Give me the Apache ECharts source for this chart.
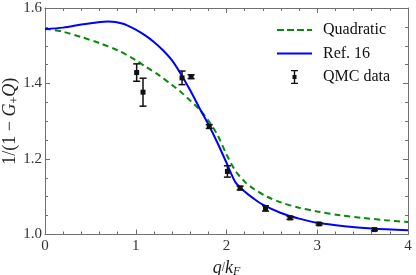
<!DOCTYPE html>
<html><head><meta charset="utf-8">
<script src="https://cdn.jsdelivr.net/npm/echarts@6/dist/echarts.min.js"></script>
<style>html,body{margin:0;padding:0;background:#fff}#c{width:416px;height:275px}</style>
</head><body><div id="c"></div>
<script>
// Quadratic model curve (q/kF, value)
const quadQ = [0, 0.2, 0.4, 0.6, 0.8, 1.0, 1.1, 1.25, 1.4, 1.5, 1.6, 1.7, 1.8, 1.9, 2.0, 2.1, 2.2, 2.3, 2.45, 2.6, 2.8, 3.0, 3.25, 3.5, 3.75, 4.0];
const quadV = [1.545, 1.537, 1.523, 1.507, 1.488, 1.462, 1.446, 1.423, 1.396, 1.377, 1.355, 1.332, 1.302, 1.264, 1.212, 1.168, 1.140, 1.121, 1.100, 1.085, 1.071, 1.061, 1.051, 1.044, 1.038, 1.033];
// Ref. 16 curve
const refQ = [0, 0.2, 0.4, 0.55, 0.7, 0.85, 1.0, 1.1, 1.2, 1.3, 1.4, 1.5, 1.6, 1.7, 1.8, 1.9, 2.0, 2.1, 2.2, 2.3, 2.4, 2.6, 2.8, 3.0, 3.3, 3.6, 4.0];
const refV = [1.544, 1.548, 1.556, 1.561, 1.564, 1.559, 1.543, 1.528, 1.510, 1.488, 1.461, 1.424, 1.382, 1.336, 1.292, 1.243, 1.190, 1.138, 1.114, 1.095, 1.079, 1.057, 1.042, 1.031, 1.022, 1.016, 1.011];
// QMC data: q, value, error
const qmcQ = [1.01, 1.08, 1.51, 1.61, 1.81, 2.01, 2.15, 2.43, 2.70, 3.02, 3.63];
const qmcV = [1.429, 1.377, 1.415, 1.418, 1.286, 1.167, 1.123, 1.069, 1.044, 1.028, 1.013];
const qmcE = [0.023, 0.037, 0.018, 0.005, 0.005, 0.015, 0.005, 0.007, 0.004, 0.003, 0.003];
const xTicks = ['0', '1', '2', '3', '4'];
const yTicks = ['1.0', '1.2', '1.4', '1.6'];

const FONT = 'Liberation Serif';
const AX = '#707070';
const GREEN = '#0a8a0a';
const BLUE = '#0000ff';
const chart = echarts.init(document.getElementById('c'));
const pair = (a, b) => a.map((v, i) => [v, b[i]]);
function frame(extra, split) {
  return Object.assign({
    type: 'value',
    axisLine: {show: true, onZero: false, lineStyle: {color: AX, width: 1}},
    axisTick: {show: true, inside: true, length: 5, lineStyle: {color: AX, width: 1}},
    minorTick: {show: true, splitNumber: split, length: 3, lineStyle: {color: AX, width: 1}},
    splitLine: {show: false},
    minorSplitLine: {show: false}
  }, extra);
}
const dashIcon = 'path://M0,0H7V2H0Z M10,0H17V2H10Z M20,0H27V2H20Z M30,0H35V2H30Z';
const solidIcon = 'path://M0,0H35V2H0Z';
chart.setOption({
  animation: false,
  grid: {left: 45, right: 8, top: 8, bottom: 40.5, containLabel: false, outerBoundsMode: 'none'},
  legend: {
    left: 272, top: 17, orient: 'vertical', itemWidth: 35, itemHeight: 14, itemGap: 7.5,
    textStyle: {fontFamily: FONT, fontSize: 16, color: '#111', padding: [0, 0, 0, 6]},
    data: [
      {name: 'Quadratic', icon: dashIcon, itemStyle: {color: GREEN}},
      {name: 'Ref. 16', icon: solidIcon, itemStyle: {color: BLUE}},
      {name: 'QMC data', icon: 'path://M0,0H7V1.2H4.2V5H5.5V9H4.2V12.8H7V14H0V12.8H2.8V9H1.5V5H2.8V1.2H0Z', itemStyle: {color: '#111'}}
    ]
  },
  xAxis: [
    frame({min: 0, max: 4, interval: 1, position: 'bottom',
      axisLabel: {fontFamily: FONT, fontSize: 15, color: '#333', margin: 4, formatter: v => xTicks[Math.round(v)]},
      name: '{i|q}/{i|k}{s|F}', nameLocation: 'middle', nameGap: 24, nameMoveOverlap: false,
      nameTextStyle: {rich: {i: {fontFamily: FONT, fontStyle: 'italic', fontSize: 18, color: '#222'}, s: {fontFamily: FONT, fontStyle: 'italic', fontSize: 12, color: '#222', padding: [7, 0, 0, 0]}}}
    }, 5),
    frame({min: 0, max: 4, interval: 1, position: 'top', axisLabel: {show: false}}, 5)
  ],
  yAxis: [
    frame({min: 1.0, max: 1.6, interval: 0.2, position: 'left',
      axisLabel: {fontFamily: FONT, fontSize: 15, color: '#333', margin: 3, formatter: v => yTicks[Math.round((v - 1) / 0.2)]},
      name: '1/(1 − {i|G}{s|+}{i|Q})', nameLocation: 'middle', nameGap: 24, nameRotate: 90, nameMoveOverlap: false,
      nameTextStyle: {fontFamily: FONT, fontSize: 18, color: '#222', rich: {i: {fontFamily: FONT, fontStyle: 'italic', fontSize: 18, color: '#222'}, s: {fontFamily: FONT, fontSize: 12, color: '#222', padding: [9, 0, 0, 0]}}}
    }, 4),
    frame({min: 1.0, max: 1.6, interval: 0.2, position: 'right', axisLabel: {show: false}}, 4)
  ],
  series: [
    {name: 'Quadratic', type: 'line', data: pair(quadQ, quadV), smooth: 0.3, symbol: 'none', showSymbol: false,
      lineStyle: {color: GREEN, width: 2, type: [6, 4]}, itemStyle: {color: GREEN}, z: 3},
    {name: 'Ref. 16', type: 'line', data: pair(refQ, refV), smooth: 0.3, symbol: 'none', showSymbol: false,
      lineStyle: {color: BLUE, width: 2}, itemStyle: {color: BLUE}, z: 4},
    {name: 'QMC data', type: 'custom', z: 5, itemStyle: {color: '#111'},
      data: qmcQ.map((q, i) => [q, qmcV[i], qmcE[i]]),
      encode: {x: 0, y: 1},
      renderItem: function (params, api) {
        const q = api.value(0), v = api.value(1), e = api.value(2);
        const c = api.coord([q, v]);
        const hi = api.coord([q, v + e]);
        const lo = api.coord([q, v - e]);
        const st = {stroke: '#111', lineWidth: 1.5};
        return {type: 'group', children: [
          {type: 'line', shape: {x1: c[0], y1: hi[1], x2: c[0], y2: lo[1]}, style: st},
          {type: 'line', shape: {x1: c[0] - 3.5, y1: hi[1], x2: c[0] + 3.5, y2: hi[1]}, style: st},
          {type: 'line', shape: {x1: c[0] - 3.5, y1: lo[1], x2: c[0] + 3.5, y2: lo[1]}, style: st},
          {type: 'rect', shape: {x: c[0] - 2.5, y: c[1] - 2.5, width: 5, height: 5}, style: {fill: '#111'}}
        ]};
      }
    }
  ]
});
</script></body></html>
